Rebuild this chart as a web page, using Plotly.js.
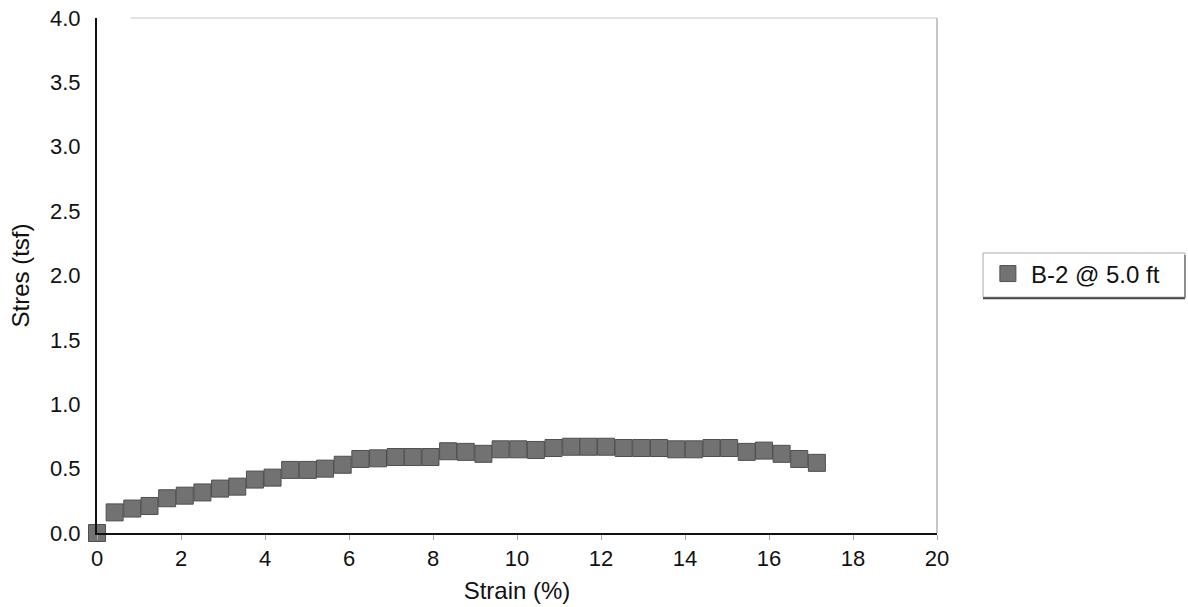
<!DOCTYPE html>
<html>
<head>
<meta charset="utf-8">
<script src="https://cdn.plot.ly/plotly-3.0.1.min.js"></script>
<style>html,body{margin:0;padding:0;background:#fff;}#chart{width:1188px;height:607px;}</style>
</head>
<body>
<div id="chart"></div>
<script>
var seriesName = "B-2 @ 5.0 ft";
var strain = [0, 0.42, 0.84, 1.25, 1.67, 2.09, 2.51, 2.93, 3.34, 3.76, 4.18, 4.60, 5.02, 5.43, 5.85, 6.27,
              6.69, 7.11, 7.52, 7.94, 8.36, 8.78, 9.20, 9.61, 10.03, 10.45, 10.87, 11.29, 11.70, 12.12, 12.54, 12.96, 13.38,
              13.79, 14.21, 14.63, 15.05, 15.47, 15.88, 16.30, 16.72, 17.14];
var stress = [0, 0.16, 0.19, 0.21, 0.27, 0.29, 0.315, 0.345, 0.36, 0.415, 0.43, 0.49, 0.49, 0.50, 0.53, 0.575,
              0.58, 0.59, 0.59, 0.59, 0.635, 0.63, 0.615, 0.65, 0.65, 0.645, 0.66, 0.67, 0.67, 0.67, 0.66, 0.66, 0.66,
              0.65, 0.65, 0.66, 0.66, 0.63, 0.64, 0.615, 0.575, 0.545];
var xTicks = [0, 2, 4, 6, 8, 10, 12, 14, 16, 18, 20];
var yTicks = [0, 0.5, 1.0, 1.5, 2.0, 2.5, 3.0, 3.5, 4.0];
var xTitle = "Strain (%)";
var yTitle = "Stres (tsf)";

var font = "Liberation Sans, Arial, sans-serif";
var trace = {
  x: strain, y: stress, type: "scatter", mode: "markers", name: seriesName,
  marker: {symbol: "square", size: 17, color: "#727272", line: {color: "#4f4f4f", width: 1}},
  cliponaxis: false
};
var layout = {
  width: 1188, height: 607,
  margin: {l: 97, r: 251, t: 18, b: 74},
  paper_bgcolor: "#fff", plot_bgcolor: "#fff",
  font: {family: font, size: 22, color: "#111"},
  showlegend: true,
  legend: {x: 1.057, y: 0.503, xanchor: "left", yanchor: "middle",
           borderwidth: 0, bgcolor: "rgba(0,0,0,0)",
           itemwidth: 36, tracegroupgap: 0,
           font: {family: font, size: 24, color: "#111"}},
  xaxis: {range: [0, 20], tickvals: xTicks, ticktext: xTicks.map(String),
          showgrid: false, zeroline: false, showline: true, linecolor: "#111", linewidth: 2,
          ticks: "outside", ticklen: 5, tickcolor: "#aaa", tickwidth: 1,
          tickfont: {family: font, size: 22, color: "#111"},
          title: {text: xTitle, font: {family: font, size: 24, color: "#111"}, standoff: 12}},
  yaxis: {range: [0, 4], tickvals: yTicks, ticktext: yTicks.map(function(v){return v.toFixed(1);}),
          showgrid: false, zeroline: false, showline: true, linecolor: "#111", linewidth: 2,
          ticks: "", ticklabelstandoff: 10,
          tickfont: {family: font, size: 22, color: "#111"},
          title: {text: yTitle, font: {family: font, size: 24, color: "#111"}, standoff: 14}},
  shapes: [
    {type: "line", xref: "paper", yref: "paper", x0: 0.04, x1: 1, y0: 1, y1: 1, line: {color: "#e2e2e2", width: 2}},
    {type: "line", xref: "paper", yref: "paper", x0: 1, x1: 1, y0: 0, y1: 1, line: {color: "#b5b5b5", width: 1.5}},
    {type: "rect", xref: "paper", yref: "paper", x0: 1.0548, x1: 1.2952, y0: 0.458, y1: 0.5437,
     line: {color: "#aaa", width: 1}, fillcolor: "rgba(0,0,0,0)"},
    {type: "line", xref: "paper", yref: "paper", x0: 1.0548, x1: 1.2952, y0: 0.456, y1: 0.456, line: {color: "#444", width: 2}},
    {type: "line", xref: "paper", yref: "paper", x0: 1.2952, x1: 1.2952, y0: 0.456, y1: 0.54, line: {color: "#777", width: 1.5}}
  ]
};
Plotly.newPlot("chart", [trace], layout, {displayModeBar: false, staticPlot: true});
</script>
</body>
</html>
